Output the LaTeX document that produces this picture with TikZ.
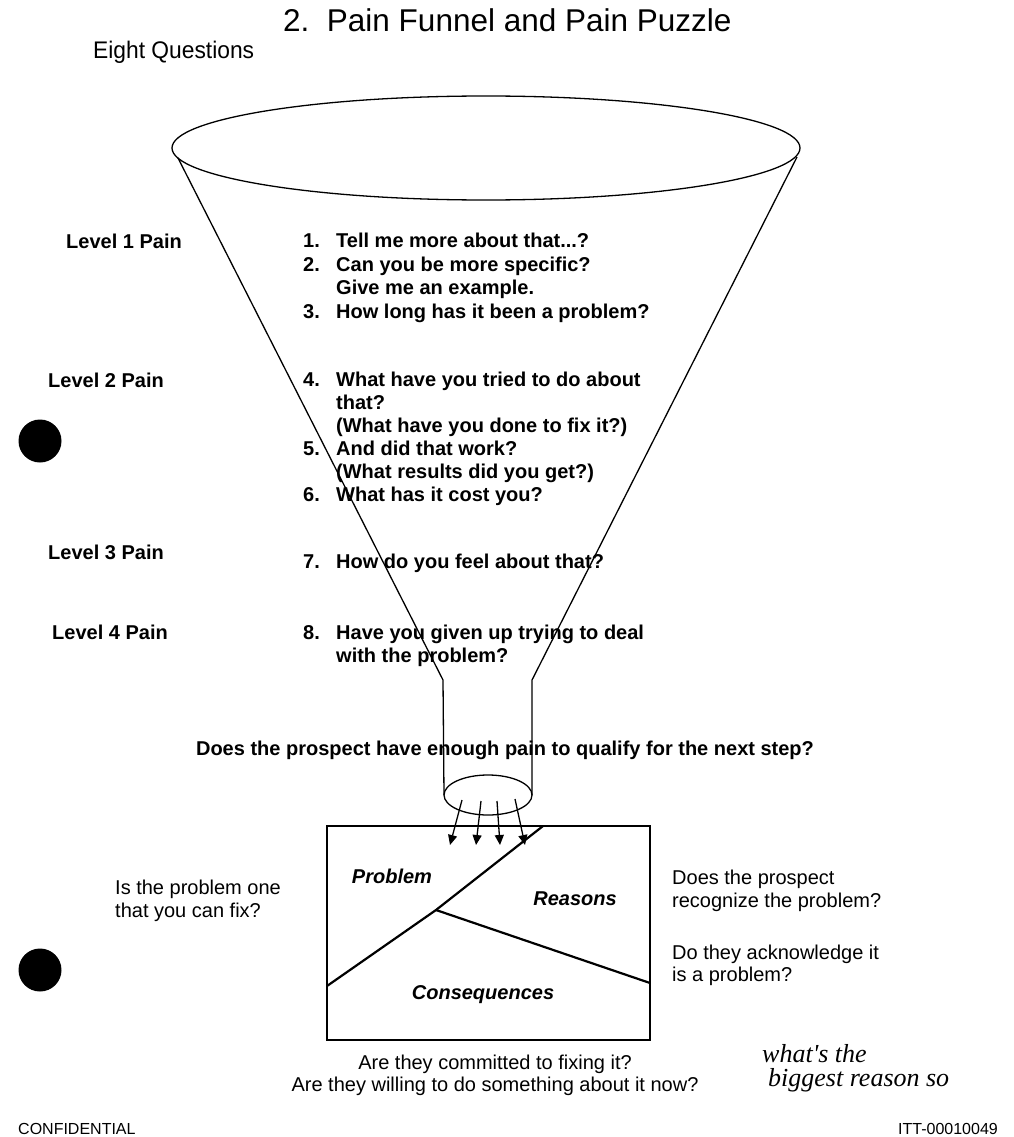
\documentclass[tikz,border=0pt]{standalone}
\usepackage{fontspec}
\setmainfont{Liberation Sans}
\newfontfamily\handfont{Liberation Serif}
\usetikzlibrary{arrows.meta}
\tikzset{
  txt/.style={anchor=base west,inner sep=0pt,font=\fontsize{20}{23}\selectfont},
  bold/.style={txt,font=\fontsize{20}{23}\selectfont\bfseries},
  part/.style={anchor=base,inner sep=0pt,font=\fontsize{20}{23}\selectfont\bfseries\itshape},
  hand/.style={anchor=base west,inner sep=0pt,font=\fontsize{26}{28}\selectfont\handfont\itshape},
  blob/.style={circle,fill=black,minimum size=43pt,inner sep=0pt},
  funnel/.style={line width=1.3pt},
  puzzle/.style={line width=2.2pt}
}
\begin{document}
\begin{tikzpicture}[x=1pt,y=-1pt]
\useasboundingbox (0,0) rectangle (1013,1137);

\node[anchor=base west,inner sep=0pt,font=\fontsize{31.5}{35}\selectfont] (title) at (283,32) {2.\ \ Pain Funnel and Pain Puzzle};
\node[txt,font=\fontsize{24}{26}\selectfont\addfontfeature{FakeStretch=0.95}] (eight) at (93,59) {Eight Questions};

%funnel
\coordinate (topL) at (178,158);
\coordinate (topR) at (797,157);
\coordinate (neckL) at (443,680);
\coordinate (neckR) at (532,680);
\coordinate (spoutL) at (444,795);
\coordinate (spoutR) at (532,795);
\draw[funnel] (486,148) ellipse [x radius=314, y radius=52];
\draw[funnel] (topL) -- (neckL) -- (spoutL);
\draw[funnel] (topR) -- (neckR) -- (spoutR);
\draw[funnel] (488,795) ellipse [x radius=44, y radius=20];

\coordinate (a1) at (462,800);
\coordinate (a2) at (481,801);
\coordinate (a3) at (497,801);
\coordinate (a4) at (515,799);
\coordinate (b1) at (450,845);
\coordinate (b2) at (476,845);
\coordinate (b3) at (500,845);
\coordinate (b4) at (525,845);
\draw[funnel,-{Triangle[length=10pt,width=9pt]}] (a1) -- (b1);
\draw[funnel,-{Triangle[length=10pt,width=9pt]}] (a2) -- (b2);
\draw[funnel,-{Triangle[length=10pt,width=9pt]}] (a3) -- (b3);
\draw[funnel,-{Triangle[length=10pt,width=9pt]}] (a4) -- (b4);

%levels
\node[bold] (lv1) at (66,248) {Level 1 Pain};
\node[bold] (lv2) at (48,387) {Level 2 Pain};
\node[bold] (lv3) at (48,559) {Level 3 Pain};
\node[bold] (lv4) at (52,639) {Level 4 Pain};

%questions
\node[bold] (n1) at (303,247) {1.};
\node[bold] (q1) at (336,247) {Tell me more about that...?};
\node[bold] (n2) at (303,271) {2.};
\node[bold] (q2) at (336,271) {Can you be more specific?};
\node[bold] (q2b) at (336,294) {Give me an example.};
\node[bold] (n3) at (303,318) {3.};
\node[bold] (q3) at (336,318) {How long has it been a problem?};
\node[bold] (n4) at (303,386) {4.};
\node[bold] (q4) at (336,386) {What have you tried to do about};
\node[bold] (q4b) at (336,409) {that?};
\node[bold] (q4c) at (336,432) {(What have you done to fix it?)};
\node[bold] (n5) at (303,455) {5.};
\node[bold] (q5) at (336,455) {And did that work?};
\node[bold] (q5b) at (336,478) {(What results did you get?)};
\node[bold] (n6) at (303,501) {6.};
\node[bold] (q6) at (336,501) {What has it cost you?};
\node[bold] (n7) at (303,568) {7.};
\node[bold] (q7) at (336,568) {How do you feel about that?};
\node[bold] (n8) at (303,639) {8.};
\node[bold] (q8) at (336,639) {Have you given up trying to deal};
\node[bold] (q8b) at (336,662) {with the problem?};

\node[bold,anchor=base] (qualify) at (505,755) {Does the prospect have enough pain to qualify for the next step?};

%puzzle
\draw[puzzle] (327,826) rectangle (650,1040);
\coordinate (cut) at (543,826);
\coordinate (mid) at (436,910);
\coordinate (lside) at (327,986);
\coordinate (rside) at (650,983);
\draw[puzzle] (cut) -- (mid) -- (lside);
\draw[puzzle] (mid) -- (rside);
\node[part] (prob) at (392,883) {Problem};
\node[part] (reas) at (575,905) {Reasons};
\node[part] (cons) at (483,999) {Consequences};

\node[txt] (fix1) at (115,894) {Is the problem one};
\node[txt] (fix2) at (115,917) {that you can fix?};
\node[txt] (rec1) at (672,884) {Does the prospect};
\node[txt] (rec2) at (672,907) {recognize the problem?};
\node[txt] (ack1) at (672,959) {Do they acknowledge it};
\node[txt] (ack2) at (672,981) {is a problem?};
\node[txt,anchor=base] (com1) at (495,1069) {Are they committed to fixing it?};
\node[txt,anchor=base] (com2) at (495,1091) {Are they willing to do something about it now?};

\node[blob] (dot1) at (40,441) {};
\node[blob] (dot2) at (40,970) {};

\node[hand] (hw1) at (762,1062) {what's the};
\node[hand] (hw2) at (768,1086) {biggest reason so};

\node[txt,font=\fontsize{16}{18}\selectfont] (conf) at (18,1134) {CONFIDENTIAL};
\node[txt,font=\fontsize{16}{18}\selectfont] (bates) at (898,1134) {ITT-00010049};
\end{tikzpicture}
\end{document}
